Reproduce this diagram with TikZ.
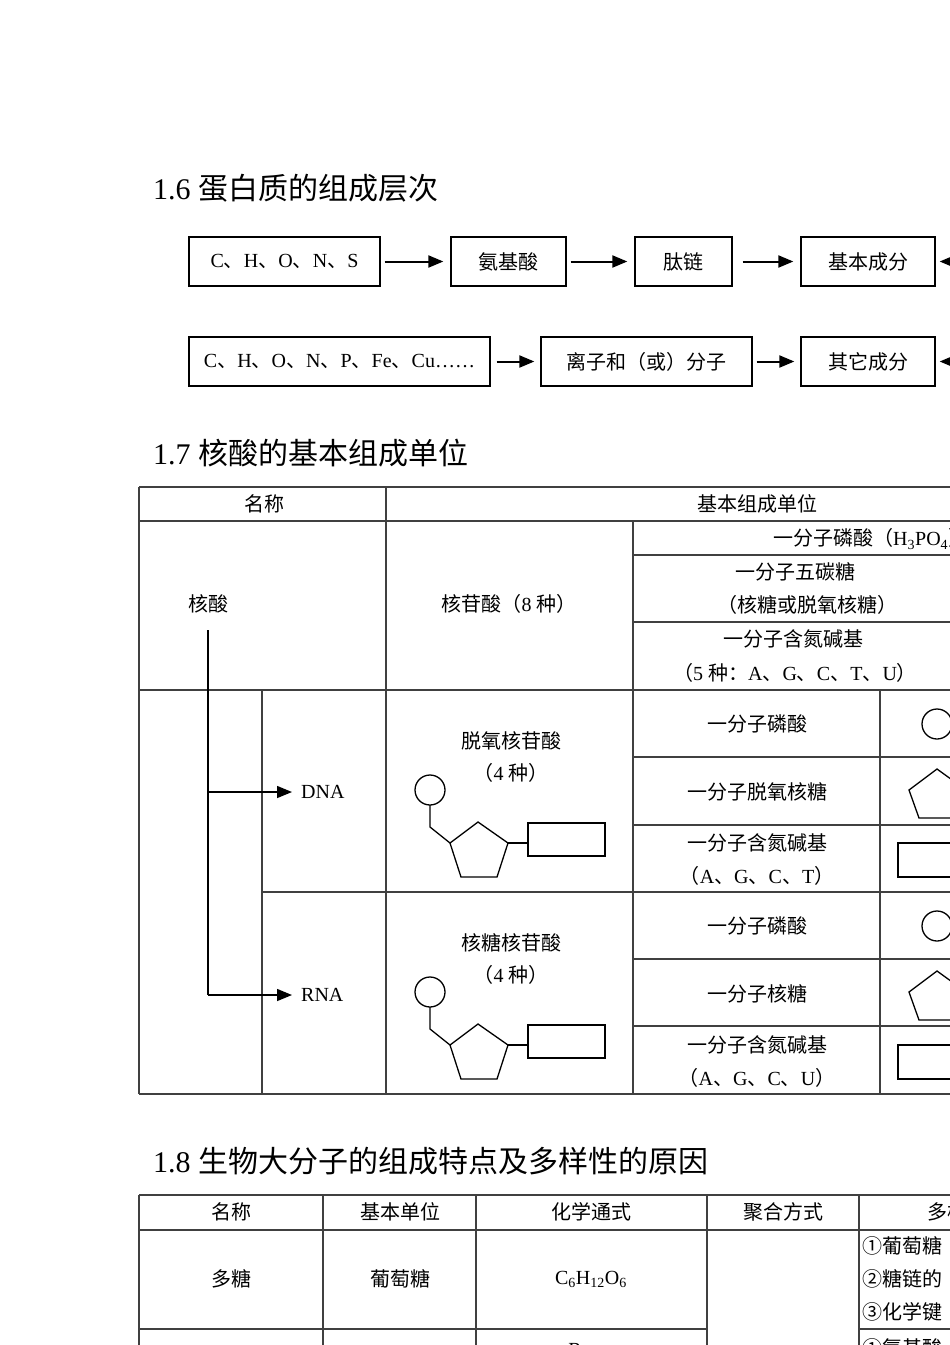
\documentclass[tikz,border=0pt]{standalone}
\usepackage{fontspec}
\setmainfont{Liberation Serif}
\newfontfamily\cjk{Noto Sans CJK SC}
\newcommand\latf{\rmfamily}
\XeTeXinterchartokenstate=1
\newXeTeXintercharclass\CJKcls
\count255="3000
\loop\XeTeXcharclass\count255=\CJKcls\ifnum\count255<"9FFF\advance\count255 1\repeat
\count255="FF00
\loop\XeTeXcharclass\count255=\CJKcls\ifnum\count255<"FFEF\advance\count255 1\repeat
\count255="2460
\loop\XeTeXcharclass\count255=\CJKcls\ifnum\count255<"24FF\advance\count255 1\repeat
\XeTeXinterchartoks 0 \CJKcls={\cjk}
\XeTeXinterchartoks 4095 \CJKcls={\cjk}
\XeTeXinterchartoks \CJKcls 0={\latf}
\XeTeXinterchartoks \CJKcls 4095={\latf}
\usetikzlibrary{arrows.meta}
\begin{document}
\begin{tikzpicture}[x=1pt,y=-1pt,
  t/.style={font=\fontsize{20}{24}\selectfont,inner sep=0pt},
  ttl/.style={font=\fontsize{30}{34}\selectfont,anchor=west,inner sep=0pt},
  bx/.style={draw,line width=1.3pt,minimum height=49pt,inner sep=0pt,font=\fontsize{20}{24}\selectfont},
  ar/.style={-{Triangle[length=15pt,width=12pt]},line width=2pt},
  grid/.style={line width=1.2pt,draw=black!75},
  shp/.style={line width=1.3pt}]
\useasboundingbox (0,0) rectangle (950,1345);
\clip (0,0) rectangle (950,1345);
% 1.6
\node[ttl] (t16) at (153,188) {1.6 蛋白质的组成层次};
\node[bx,minimum width=191pt] (a1) at (284.5,261.5) {C、H、O、N、S};
\node[bx,minimum width=115pt] (a2) at (508.5,261.5) {氨基酸};
\node[bx,minimum width=97pt] (a3) at (683.5,261.5) {肽链};
\node[bx,minimum width=134pt] (a4) at (868,261.5) {基本成分};
\node[bx,minimum width=301pt] (b1) at (339.5,361.5) {C、H、O、N、P、Fe、Cu……};
\node[bx,minimum width=211pt] (b2) at (646.5,361.5) {离子和（或）分子};
\node[bx,minimum width=134pt] (b3) at (868,361.5) {其它成分};
\draw[ar,shorten <=4pt,shorten >=7pt] (a1) -- (a2);
\draw[ar,shorten <=4pt,shorten >=7pt] (a2) -- (a3);
\draw[ar,shorten <=10pt,shorten >=7pt] (a3) -- (a4);
\draw[ar,shorten <=6pt,shorten >=6pt] (b1) -- (b2);
\draw[ar,shorten <=4pt,shorten >=6pt] (b2) -- (b3);
\coordinate (ra) at (965,261.5); \coordinate (rb) at (965,361.5);
\draw[ar,shorten >=4pt] (ra) -- (a4); \draw[ar,shorten >=4pt] (rb) -- (b3);
% 1.7
\node[ttl] (t17) at (153,453) {1.7 核酸的基本组成单位};
\draw[grid] (139,487) -- (960,487) (139,1094) -- (960,1094) (139,487) -- (139,1094)
  (139,521) -- (960,521) (633,555) -- (960,555) (633,622) -- (960,622)
  (139,690) -- (960,690) (633,757) -- (960,757) (633,825) -- (960,825)
  (262,892) -- (960,892) (633,959) -- (960,959) (633,1026) -- (960,1026)
  (386,487) -- (386,1094) (633,521) -- (633,1094) (880,690) -- (880,1094) (262,690) -- (262,1094);
\node[t] at (264,504) {名称};
\node[t] at (757,504) {基本组成单位};
\node[t,anchor=west] at (773,539) {一分子磷酸（H\textsubscript{3}PO\textsubscript{4}）};
\node[t] at (795,572) {一分子五碳糖};
\node[t] at (807,605) {（核糖或脱氧核糖）};
\node[t] at (793,639) {一分子含氮碱基};
\node[t] at (795,673) {（5 种：A、G、C、T、U）};
\node[t] (hs) at (208,604) {核酸};
\node[t] at (509,604) {核苷酸（8 种）};
\coordinate (v0) at (208,630);
\coordinate (v1) at (208,792); \coordinate (v2) at (208,995);
\node[t,anchor=west] (dna) at (301,792) {DNA};
\node[t,anchor=west] (rna) at (301,995) {RNA};
\draw[line width=1.3pt] (v0) -- (v2);
\draw[ar,line width=1.5pt,shorten >=9pt] (v1) -- (dna.west); \draw[ar,line width=1.5pt,shorten >=9pt] (v2) -- (rna.west);
\node[t] at (511,741) {脱氧核苷酸};
\node[t] at (511,773) {（4 种）};
\node[t] at (511,943) {核糖核苷酸};
\node[t] at (511,975) {（4 种）};
\foreach \dy in {0,202}{
  \begin{scope}[yshift=-\dy pt]
  \draw[shp] (430,790) circle (15pt);
  \draw[shp] (430,805) -- (430,827) -- (450,843);
  \draw[shp] (478,822) -- (508,843) -- (497,877) -- (461,877) -- (450,843) -- cycle;
  \draw[shp] (508,843) -- (528,843);
  \draw[shp] (528,823) rectangle (605,856);
  \draw[shp] (937,724) circle (15pt);
  \draw[shp] (937,769) -- (966,790) -- (955,818) -- (919,818) -- (909,790) -- cycle;
  \draw[shp] (898,843) rectangle (975,877);
  \end{scope}}
\node[t] at (757,724) {一分子磷酸};
\node[t] at (757,792) {一分子脱氧核糖};
\node[t] at (757,843) {一分子含氮碱基};
\node[t] at (757,876) {（A、G、C、T）};
\node[t] at (757,926) {一分子磷酸};
\node[t] at (757,994) {一分子核糖};
\node[t] at (757,1045) {一分子含氮碱基};
\node[t] at (757,1078) {（A、G、C、U）};
% 1.8
\node[ttl] (t18) at (153,1161) {1.8 生物大分子的组成特点及多样性的原因};
\draw[grid] (139,1195) -- (960,1195) (139,1230) -- (960,1230)
  (139,1329) -- (707,1329) (859,1329) -- (960,1329)
  (139,1195) -- (139,1350) (323,1195) -- (323,1350) (476,1195) -- (476,1350)
  (707,1195) -- (707,1350) (859,1195) -- (859,1350);
\node[t] at (231,1212) {名称};
\node[t] at (400,1212) {基本单位};
\node[t] at (591,1212) {化学通式};
\node[t] at (783,1212) {聚合方式};
\node[t,anchor=west] at (927,1212) {多样性的原因};
\node[t] at (231,1279) {多糖};
\node[t] at (400,1279) {葡萄糖};
\node[t] at (591,1279) {C\textsubscript{6}H\textsubscript{12}O\textsubscript{6}};
\node[t,anchor=west] at (862,1246) {①葡萄糖};
\node[t,anchor=west] at (862,1279) {②糖链的};
\node[t,anchor=west] at (862,1312) {③化学键};
\node[t,anchor=west] at (862,1348) {①氨基酸};
\node[t] at (575,1350) {R};
\end{tikzpicture}
\end{document}
